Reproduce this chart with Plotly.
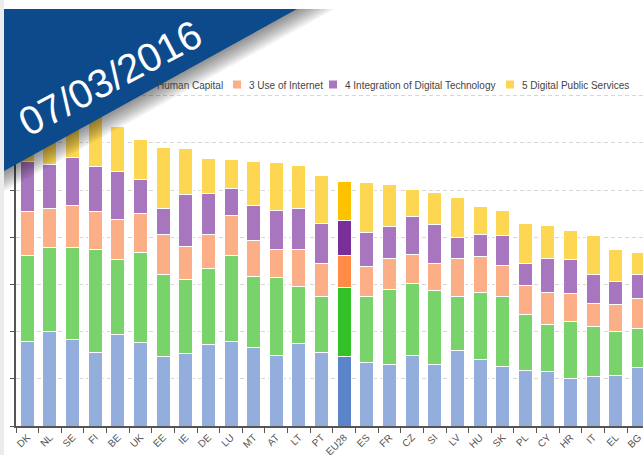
import plotly.graph_objects as go

# ---------------- data ----------------
countries = ["DK", "NL", "SE", "FI", "BE", "UK", "EE", "IE", "DE", "LU", "MT", "AT", "LT", "PT",
             "EU28", "ES", "FR", "CZ", "SI", "LV", "HU", "SK", "PL", "CY", "HR", "IT", "EL", "BG"]

connectivity = [0.179, 0.200, 0.184, 0.156, 0.193, 0.177, 0.147, 0.153, 0.172, 0.180, 0.166, 0.150, 0.175, 0.156,
                0.147, 0.134, 0.131, 0.149, 0.131, 0.161, 0.141, 0.127, 0.117, 0.115, 0.101, 0.104, 0.107, 0.124]
human_capital = [0.183, 0.178, 0.194, 0.217, 0.159, 0.191, 0.174, 0.158, 0.161, 0.182, 0.150, 0.164, 0.120, 0.119,
                 0.147, 0.140, 0.159, 0.153, 0.156, 0.113, 0.142, 0.147, 0.120, 0.101, 0.121, 0.106, 0.094, 0.082]
use_of_internet = [0.092, 0.083, 0.089, 0.082, 0.086, 0.082, 0.084, 0.069, 0.072, 0.085, 0.078, 0.061, 0.078, 0.070,
                   0.068, 0.063, 0.065, 0.062, 0.058, 0.081, 0.076, 0.067, 0.061, 0.067, 0.059, 0.050, 0.057, 0.065]
integration = [0.106, 0.094, 0.101, 0.094, 0.102, 0.073, 0.055, 0.111, 0.088, 0.057, 0.074, 0.081, 0.088, 0.083,
               0.073, 0.073, 0.067, 0.079, 0.081, 0.044, 0.047, 0.062, 0.047, 0.071, 0.071, 0.062, 0.048, 0.049]
public_services = [0.120, 0.115, 0.090, 0.110, 0.094, 0.083, 0.130, 0.096, 0.074, 0.061, 0.093, 0.103, 0.090, 0.102,
                   0.083, 0.106, 0.090, 0.059, 0.068, 0.086, 0.059, 0.053, 0.083, 0.070, 0.063, 0.081, 0.068, 0.048]

series_names = ["1 Connectivity", "2 Human Capital", "3 Use of Internet",
                "4 Integration of Digital Technology", "5 Digital Public Services"]
series_values = [connectivity, human_capital, use_of_internet, integration, public_services]
base_colors = ["#93aedc", "#77d36a", "#fcae86", "#a876be", "#fdd652"]
eu_colors = ["#5c85c9", "#34c027", "#ff8b47", "#7a2f98", "#fec300"]
highlight = "EU28"
date_label = "07/03/2016"

# ---------------- geometry helpers ----------------
W, H = 643, 455
ML, MR, MT, MB = 16, 0, 86, 29
PW, PH = W - ML - MR, H - MT - MB
PX_PER_UNIT = 472.0


def px(x):
    return (x - ML) / PW


def py(y):
    return (H - MB - y) / PH


fig = go.Figure()
for name, vals, c, ce in zip(series_names, series_values, base_colors, eu_colors):
    cols = [ce if k == highlight else c for k in countries]
    fig.add_trace(go.Bar(
        x=countries, y=vals, name=name, width=0.62,
        marker=dict(color=cols, line=dict(color="white", width=1)),
        showlegend=False, hoverinfo="x+y+name",
    ))

shapes = []
annotations = []

# light strip on the left edge
shapes.append(dict(type="rect", xref="paper", yref="paper", x0=px(0), x1=px(4), y0=py(H), y1=py(0),
                   fillcolor="#ececec", line=dict(width=0), layer="above"))

# manual legend (first entries hidden behind the date banner)
legend_items = [
    (series_names[1][2:], None, 157),
    (series_names[2], base_colors[2], 249),
    (series_names[3], base_colors[3], 345),
    (series_names[4], base_colors[4], 522),
]
for text, col, x_text in legend_items:
    if col is not None:
        shapes.append(dict(type="rect", xref="paper", yref="paper",
                           x0=px(x_text - 16), x1=px(x_text - 8), y0=py(88.5), y1=py(80.5),
                           fillcolor=col, line=dict(width=0), layer="above"))
    annotations.append(dict(text=text, xref="paper", yref="paper", x=px(x_text - 2), y=py(85),
                            xanchor="left", yanchor="middle", showarrow=False,
                            font=dict(family="Liberation Sans, Arial, sans-serif", size=10, color="#444")))

# banner shadow
nx, ny = 0.482, 0.876
for d in range(2, 19, 2):
    x_tip = 297 + d / nx
    y_foot = 171 + d / ny
    shapes.append(dict(type="path", xref="paper", yref="paper",
                       path=f"M{px(4)},{py(9)} L{px(x_tip)},{py(9)} L{px(4)},{py(y_foot)} Z",
                       fillcolor="rgba(0,0,0,0.055)", line=dict(width=0), layer="above"))
# banner
shapes.append(dict(type="path", xref="paper", yref="paper",
                   path=f"M{px(4)},{py(9)} L{px(297)},{py(9)} L{px(4)},{py(171)} Z",
                   fillcolor="#0c4a8c", line=dict(width=0), layer="above"))
annotations.append(dict(text=date_label, xref="paper", yref="paper", x=px(110), y=py(78),
                        xanchor="center", yanchor="middle", showarrow=False, textangle=-28,
                        font=dict(family="Liberation Sans, Arial, sans-serif", size=40, color="white")))

fig.update_layout(
    width=W, height=H,
    margin=dict(l=ML, r=MR, t=MT, b=MB, pad=0, autoexpand=False),
    barmode="stack", bargap=0.38,
    paper_bgcolor="white", plot_bgcolor="white",
    showlegend=False,
    shapes=shapes, annotations=annotations,
    font=dict(family="Liberation Sans, Arial, sans-serif", color="#555"),
)
fig.update_xaxes(
    type="category", range=[-0.5, 27.2], showgrid=False, zeroline=False, automargin=False,
    showline=True, linecolor="#555", linewidth=1.5,
    ticks="outside", ticklen=5, tickcolor="#555", tickson="boundaries",
    tickangle=-45, tickfont=dict(size=10, color="#555"),
)
fig.update_yaxes(
    range=[0, PH / PX_PER_UNIT], dtick=0.1, showgrid=True, gridcolor="#d6d6d6", griddash="4px,3px",
    zeroline=False, showline=True, linecolor="#555", linewidth=1.5, automargin=False,
    ticks="outside", ticklen=4, tickcolor="#555", showticklabels=False,
)

fig.write_html("out.html", config={"displayModeBar": False},
               post_script="document.body.style.margin='0';document.body.style.overflow='hidden';")
